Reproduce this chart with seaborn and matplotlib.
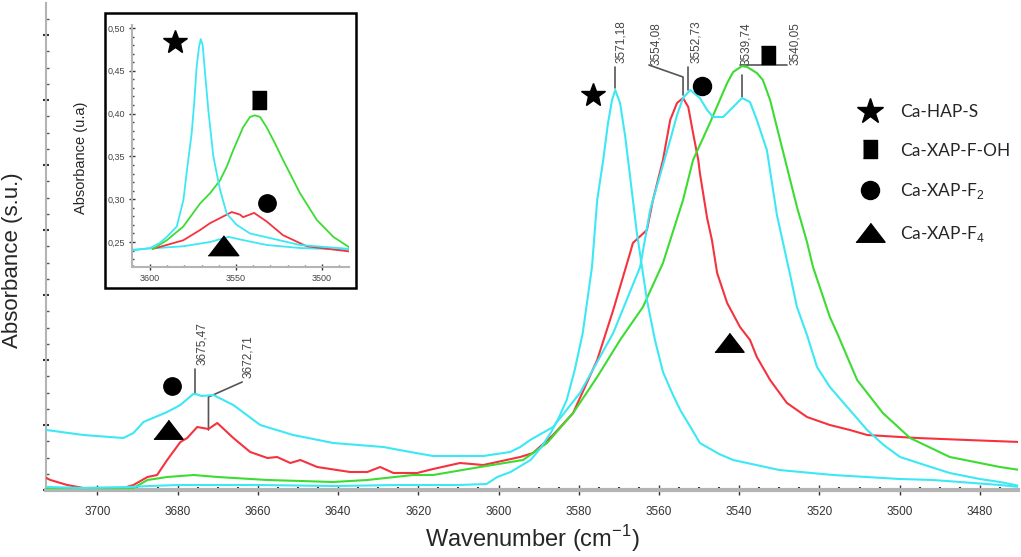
import numpy as np
import pandas as pd
import matplotlib
matplotlib.use("Agg")
import matplotlib.pyplot as plt
import seaborn as sns
from matplotlib.lines import Line2D
from matplotlib.patches import Rectangle
from matplotlib.ticker import MultipleLocator, FuncFormatter, NullFormatter

sns.set_style("ticks")
plt.rcParams["font.family"] = ["Liberation Sans", "DejaVu Sans"]
plt.rcParams["mathtext.fontset"] = "custom"
plt.rcParams["mathtext.rm"] = "Liberation Sans"

CYAN = "#3ce8f4"
RED = "#f5333f"
GREEN = "#3cdc32"

# ---- main spectra (wavenumber cm-1, absorbance in arbitrary units) ----
wn_hap = [3712.7, 3703.5, 3692, 3687, 3680, 3660, 3641, 3625, 3610, 3603, 3600.3, 3597, 3592,
          3589.5, 3587, 3585, 3583, 3581, 3579, 3576.7, 3575.4, 3573.9, 3572.7, 3571.7, 3570.9,
          3569.7, 3568.4, 3567.7, 3565.5, 3563, 3561, 3559, 3556.5, 3554.7, 3552, 3549.8, 3545,
          3541.5, 3530, 3516.6, 3500, 3491.7, 3475, 3470]
ab_hap = [3, 2, 3, 4, 5, 5, 4, 5, 5, 6, 13, 18, 30, 42, 57, 72, 90, 120, 157, 223, 290, 330, 367,
          390, 400, 387, 353, 330, 257, 190, 150, 118, 95, 80, 62, 47, 36, 30, 20, 15, 11, 10, 5, 3]

wn_f2 = [3712.7, 3703.5, 3693.5, 3691, 3688.5, 3682.6, 3679.3, 3676.1, 3675.5, 3674, 3671.1,
         3666.1, 3659.4, 3651.2, 3641.2, 3628.7, 3622, 3616.3, 3603.8, 3597.1, 3594.6, 3592.1,
         3586.4, 3579.7, 3571.4, 3564.7, 3562.2, 3559.5, 3557.2, 3555.5, 3554, 3552.2, 3549.8,
         3548, 3546.5, 3544, 3541.5, 3539.3, 3537.3, 3535.6, 3533.1, 3530.6, 3527.3, 3525.6,
         3523.1, 3520.6, 3517.4, 3512, 3508.1, 3504, 3499.9, 3493, 3487.5, 3480, 3475, 3470]
ab_f2 = [60, 55, 52, 57, 68, 78, 85, 96, 96, 94, 95, 85, 65, 55, 47, 43, 38, 34, 34, 38, 43, 50,
         63, 97, 157, 223, 280, 318, 350, 375, 392, 400, 392, 380, 373, 373, 383, 392, 388, 370,
         340, 275, 215, 183, 155, 123, 103, 78, 60, 45, 33, 24, 17, 11, 8, 4]

wn_f4 = [3712.7, 3711.7, 3707.5, 3703.5, 3693.5, 3691, 3687.5, 3685.1, 3682.6, 3679.3, 3677.6,
         3675.1, 3672.3, 3670.1, 3666.1, 3661.9, 3657.6, 3655.2, 3651.9, 3649.4, 3645.2, 3637,
         3632.7, 3629.5, 3626.2, 3620.3, 3616.3, 3609.6, 3603.8, 3594.6, 3591.4, 3586.4, 3581.4,
         3575.4, 3571.4, 3567.2, 3566.5, 3563, 3561.5, 3559, 3557.2, 3555.5, 3554, 3552.7,
         3551.5, 3550.2, 3549.8, 3548, 3546.8, 3545.5, 3543, 3539.8, 3537.3, 3535.6, 3532.3,
         3528.1, 3523.1, 3517.4, 3512.4, 3508.1, 3495.7, 3483.2, 3470]
ab_f4 = [12, 10, 5, 2, 2, 5, 13, 15, 30, 48, 52, 63, 61, 67, 52, 38, 32, 33, 27, 30, 23, 18, 18,
         23, 17, 17, 21, 27, 25, 33, 37, 55, 77, 130, 180, 237, 247, 260, 290, 330, 370, 387, 392,
         383, 357, 330, 317, 272, 250, 217, 187, 163, 150, 133, 110, 87, 73, 65, 60, 55, 52, 50, 48]

wn_foh = [3712.7, 3691, 3687.5, 3682.6, 3676, 3670, 3657.6, 3641.2, 3632.7, 3621.3, 3616.3,
          3604.6, 3593.9, 3587.9, 3581.4, 3575.4, 3569.7, 3564, 3559, 3554, 3551.5, 3547.3,
          3543, 3541.5, 3539.3, 3538, 3535.6, 3534.1, 3532.3, 3529.8, 3525.6, 3523.1, 3521.6,
          3517.4, 3515.6, 3510.6, 3504.2, 3497.4, 3487.5, 3475, 3470]
ab_foh = [2, 2, 10, 13, 15, 13, 10, 8, 10, 15, 15, 23, 30, 47, 77, 113, 150, 183, 227, 290, 330,
          367, 407, 418, 424, 423, 417, 410, 390, 350, 283, 248, 223, 173, 157, 110, 77, 52, 33,
          23, 20]

# ---- inset spectra ----
in_wn_hap = [3610.5, 3600, 3594.2, 3590.3, 3584.5, 3580.6, 3578.3, 3575.8, 3574.2, 3572.9, 3571.5,
             3570.5, 3569.4, 3568, 3566.1, 3563.2, 3559.3, 3555.4, 3549.6, 3541.9, 3512.8, 3484.3]
in_ab_hap = [0.240, 0.243, 0.249, 0.256, 0.268, 0.299, 0.338, 0.377, 0.416, 0.455, 0.478, 0.487,
             0.480, 0.447, 0.404, 0.350, 0.311, 0.283, 0.270, 0.260, 0.2465, 0.242]
in_wn_foh = [3598.3, 3590.3, 3580.7, 3570.9, 3565.1, 3559.3, 3555.4, 3551.7, 3545.9, 3541.9, 3539,
             3536, 3532.2, 3527.3, 3522.7, 3512.8, 3503.1, 3493.4, 3484.3]
in_ab_foh = [0.242, 0.252, 0.268, 0.295, 0.307, 0.322, 0.338, 0.357, 0.384, 0.396, 0.398, 0.396,
             0.384, 0.365, 0.346, 0.307, 0.276, 0.256, 0.244]
in_wn_red = [3598.3, 3580.7, 3570.9, 3565.1, 3561.2, 3552.5, 3547.7, 3545.9, 3539.5, 3532.2,
             3522.7, 3508.9, 3484.3]
in_ab_red = [0.242, 0.252, 0.264, 0.272, 0.276, 0.285, 0.282, 0.279, 0.284, 0.274, 0.258, 0.245,
             0.239]
in_wn_low = [3610.5, 3580.7, 3565.1, 3554.4, 3547.7, 3532.2, 3512.8, 3484.3]
in_ab_low = [0.241, 0.245, 0.250, 0.256, 0.253, 0.2465, 0.243, 0.241]

# ---- peak labels and their leader lines ----
peak_labels = ["3675,47", "3672,71", "3571,18", "3554,08", "3552,73", "3539,74", "3540,05"]
label_wn = [3673.8, 3662.4, 3569.4, 3560.7, 3550.8, 3538.3, 3526.1]
label_ab = [125, 112, 427, 425, 427, 425, 425]
leader_wn = [[3675.6, 3675.6], [3672.3, 3672.3, 3663.9], [3570.9, 3570.9], [3554, 3554, 3562.5],
             [3552.7, 3552.7], [3539.3, 3539.3], [3539.8, 3528.1]]
leader_ab = [[97, 121], [60, 93, 108], [402, 423], [395, 413, 425], [400, 423], [393, 415], [425, 425]]

# ---- symbols placed on the plots ----
tri_wide = [(-1, -0.6), (1, -0.6), (0, 0.7)]
sq_tall = [(-0.8, -1), (0.8, -1), (0.8, 1), (-0.8, 1)]
main_sym = [("*", 3576.4, 395, 18), ("o", 3549.3, 404, 13), (sq_tall, 3532.8, 435, 13),
            (tri_wide, 3542.5, 147, 21), ("o", 3681.3, 104, 12.5), (tri_wide, 3682.3, 60, 21)]
inset_sym = [("*", 3585.5, 0.4835, 18), (sq_tall, 3536.6, 0.416, 13), ("o", 3532, 0.296, 12.5),
             (tri_wide, 3557.5, 0.245, 22)]

legend_names = ["Ca-HAP-S", "Ca-XAP-F-OH", "Ca-XAP-F$_2$", "Ca-XAP-F$_4$"]

fig = plt.figure(figsize=(10.21, 5.57), dpi=100)
ax = fig.add_axes([46 / 1021, 67 / 557, 972 / 1021, 487 / 557])

for wn, ab, col in [(wn_f4, ab_f4, RED), (wn_foh, ab_foh, GREEN), (wn_f2, ab_f2, CYAN), (wn_hap, ab_hap, CYAN)]:
    sns.lineplot(x=wn, y=ab, color=col, lw=1.5, ax=ax, zorder=3)

for lab, x, y, lx, ly in zip(peak_labels, label_wn, label_ab, leader_wn, leader_ab):
    ax.plot(lx, ly, color="#555555", lw=1.2, zorder=2)
    ax.text(x, y, lab, rotation=90, ha="center", va="bottom", fontsize=8.5, color="#444444", zorder=1)

for m, x, y, s in main_sym:
    ax.plot([x], [y], marker=m, ms=s, color="black", ls="", zorder=4)

ax.set_xlim(3712.8, 3470.5)
ax.set_ylim(0, 487)
ax.xaxis.set_major_locator(MultipleLocator(20))
ax.xaxis.set_minor_locator(MultipleLocator(5))
ax.yaxis.set_major_locator(MultipleLocator(65))
ax.yaxis.set_minor_locator(MultipleLocator(16.25))
ax.yaxis.set_major_formatter(NullFormatter())
for s in ["top", "right"]:
    ax.spines[s].set_visible(False)
ax.spines["bottom"].set_color("#b4b4b4")
ax.spines["bottom"].set_linewidth(3)
ax.spines["left"].set_color("#b4b4b4")
ax.spines["left"].set_linewidth(1.5)
ax.tick_params(axis="x", which="major", direction="inout", length=7, width=1, color="#333333",
               labelsize=8.5, labelcolor="#333333", pad=8)
ax.tick_params(axis="x", which="minor", direction="in", length=2, width=1.5, color="#333333")
ax.tick_params(axis="y", which="major", direction="inout", length=4, width=1.5, color="#333333")
ax.tick_params(axis="y", which="minor", direction="in", length=2, width=1, color="#555555")
ax.set_xlabel("Wavenumber (cm$^{-1}$)", fontsize=17, labelpad=4)
ax.set_ylabel("Absorbance (s.u.)", fontsize=16)
ax.yaxis.set_label_coords(-0.0237, 0.472)

handles = [Line2D([], [], marker="*", ms=19, color="black", ls=""),
           Line2D([], [], marker=sq_tall, ms=13, color="black", ls=""),
           Line2D([], [], marker="o", ms=13, color="black", ls=""),
           Line2D([], [], marker=tri_wide, ms=21, color="black", ls="")]
leg = ax.legend(handles, legend_names, loc="upper left", bbox_to_anchor=(850 / 1021, 1 - 97 / 557),
                bbox_transform=fig.transFigure, frameon=False, prop={"family": "Lato", "size": 12.5},
                handlelength=1.5, handletextpad=1.0, labelspacing=1.3, borderaxespad=0)

# ---- inset ----
fig.add_artist(Rectangle((105 / 1021, 1 - 288 / 557), 251 / 1021, 275 / 557, transform=fig.transFigure,
                         facecolor="white", edgecolor="black", lw=1.8, zorder=5))
axin = fig.add_axes([132 / 1021, 1 - 267 / 557, 217 / 1021, 242 / 557], zorder=6)
axin.patch.set_alpha(0)
for wn, ab, col in [(in_wn_low, in_ab_low, CYAN), (in_wn_red, in_ab_red, RED),
                    (in_wn_foh, in_ab_foh, GREEN), (in_wn_hap, in_ab_hap, CYAN)]:
    sns.lineplot(x=wn, y=ab, color=col, lw=1.3, ax=axin)
for m, x, y, s in inset_sym:
    axin.plot([x], [y], marker=m, ms=s, color="black", ls="", zorder=4)
axin.set_xlim(3610.5, 3484.3)
axin.set_ylim(0.2208, 0.5035)
axin.xaxis.set_major_locator(MultipleLocator(50))
axin.xaxis.set_minor_locator(MultipleLocator(10))
axin.yaxis.set_major_locator(MultipleLocator(0.05))
axin.yaxis.set_minor_locator(MultipleLocator(0.01))
axin.yaxis.set_major_formatter(FuncFormatter(lambda v, p: f"{v:.2f}".replace(".", ",")))
for s in ["top", "right"]:
    axin.spines[s].set_visible(False)
for s in ["bottom", "left"]:
    axin.spines[s].set_color("#b4b4b4")
    axin.spines[s].set_linewidth(1.5)
axin.tick_params(which="major", direction="inout", length=4, width=1, color="#333333",
                 labelsize=6.5, labelcolor="#444444", pad=3)
axin.tick_params(which="minor", direction="in", length=1.5, width=1, color="#444444")
axin.set_ylabel("Absorbance (u.a)", fontsize=10.5)
axin.yaxis.set_label_coords(-0.203, 0.45)

fig.savefig("out.png", dpi=100)
